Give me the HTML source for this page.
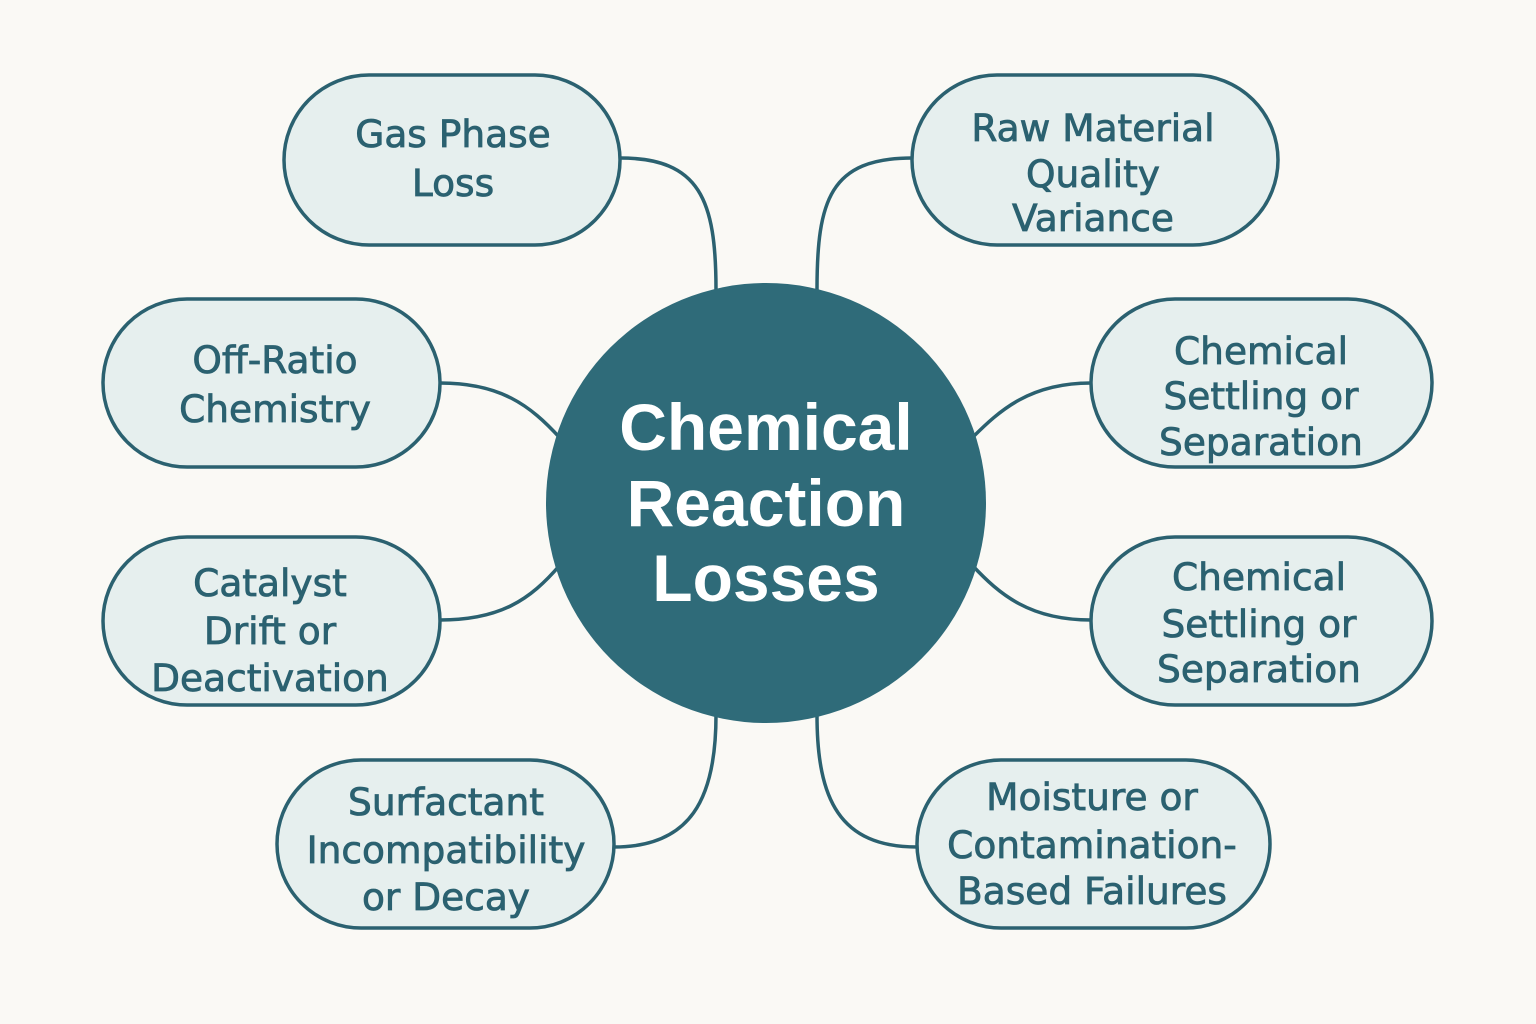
<!DOCTYPE html>
<html><head><meta charset="utf-8"><style>
html,body{margin:0;padding:0;background:#faf9f5;}
svg{display:block;}
.p text{font-family:"DejaVu Sans","Liberation Sans",sans-serif;}
.t text{font-family:"Liberation Sans",sans-serif;}
</style></head><body>
<svg width="1536" height="1024" viewBox="0 0 1536 1024" xmlns="http://www.w3.org/2000/svg">
<rect width="1536" height="1024" fill="#faf9f5"/>
<g fill="none" stroke="#2b6170" stroke-width="3.5">
<path d="M620,158 C700,158 716,200 716,290"/>
<path d="M912,158 C830,158 817,200 817,290"/>
<path d="M440,383 C500,383 530,405 560,438"/>
<path d="M1091,383 C1030,383 1000,410 972,438"/>
<path d="M440,620 C500,620 530,600 560,565"/>
<path d="M1091,620 C1030,620 1000,595 972,565"/>
<path d="M614,847 C690,847 716,800 716,715"/>
<path d="M917,847 C840,847 817,800 817,715"/>
</g>
<circle cx="766" cy="503" r="220" fill="#2f6b79"/>
<g class="t" fill="#ffffff" font-size="66" font-weight="bold" text-anchor="middle">
<text x="766" y="450">Chemical</text>
<text x="766" y="526">Reaction</text>
<text x="766" y="601">Losses</text>
</g>
<g fill="#e6efee" stroke="#2b6170" stroke-width="3.5">
<rect x="284" y="75" width="336" height="170" rx="85"/>
<rect x="912" y="75" width="366" height="170" rx="85"/>
<rect x="103" y="299" width="337" height="168" rx="84"/>
<rect x="1091" y="299" width="341" height="168" rx="84"/>
<rect x="103" y="537" width="337" height="168" rx="84"/>
<rect x="1091" y="537" width="341" height="168" rx="84"/>
<rect x="277" y="760" width="337" height="168" rx="84"/>
<rect x="917" y="760" width="353" height="168" rx="84"/>
</g>
<g class="p" fill="#2b6170" stroke="#2b6170" stroke-width="0.8" font-size="37.5" text-anchor="middle">
<text x="453" y="147">Gas Phase</text>
<text x="453" y="196">Loss</text>
<text x="1093" y="141">Raw Material</text>
<text x="1093" y="187">Quality</text>
<text x="1093" y="231">Variance</text>
<text x="275" y="373">Off-Ratio</text>
<text x="275" y="422">Chemistry</text>
<text x="1261" y="364">Chemical</text>
<text x="1261" y="409">Settling or</text>
<text x="1261" y="455">Separation</text>
<text x="270" y="596">Catalyst</text>
<text x="270" y="644">Drift or</text>
<text x="270" y="691">Deactivation</text>
<text x="1259" y="590">Chemical</text>
<text x="1259" y="637">Settling or</text>
<text x="1259" y="682">Separation</text>
<text x="446" y="815">Surfactant</text>
<text x="446" y="863">Incompatibility</text>
<text x="446" y="910">or Decay</text>
<text x="1092" y="810">Moisture or</text>
<text x="1092" y="858">Contamination-</text>
<text x="1092" y="904">Based Failures</text>
</g>
</svg>
</body></html>
